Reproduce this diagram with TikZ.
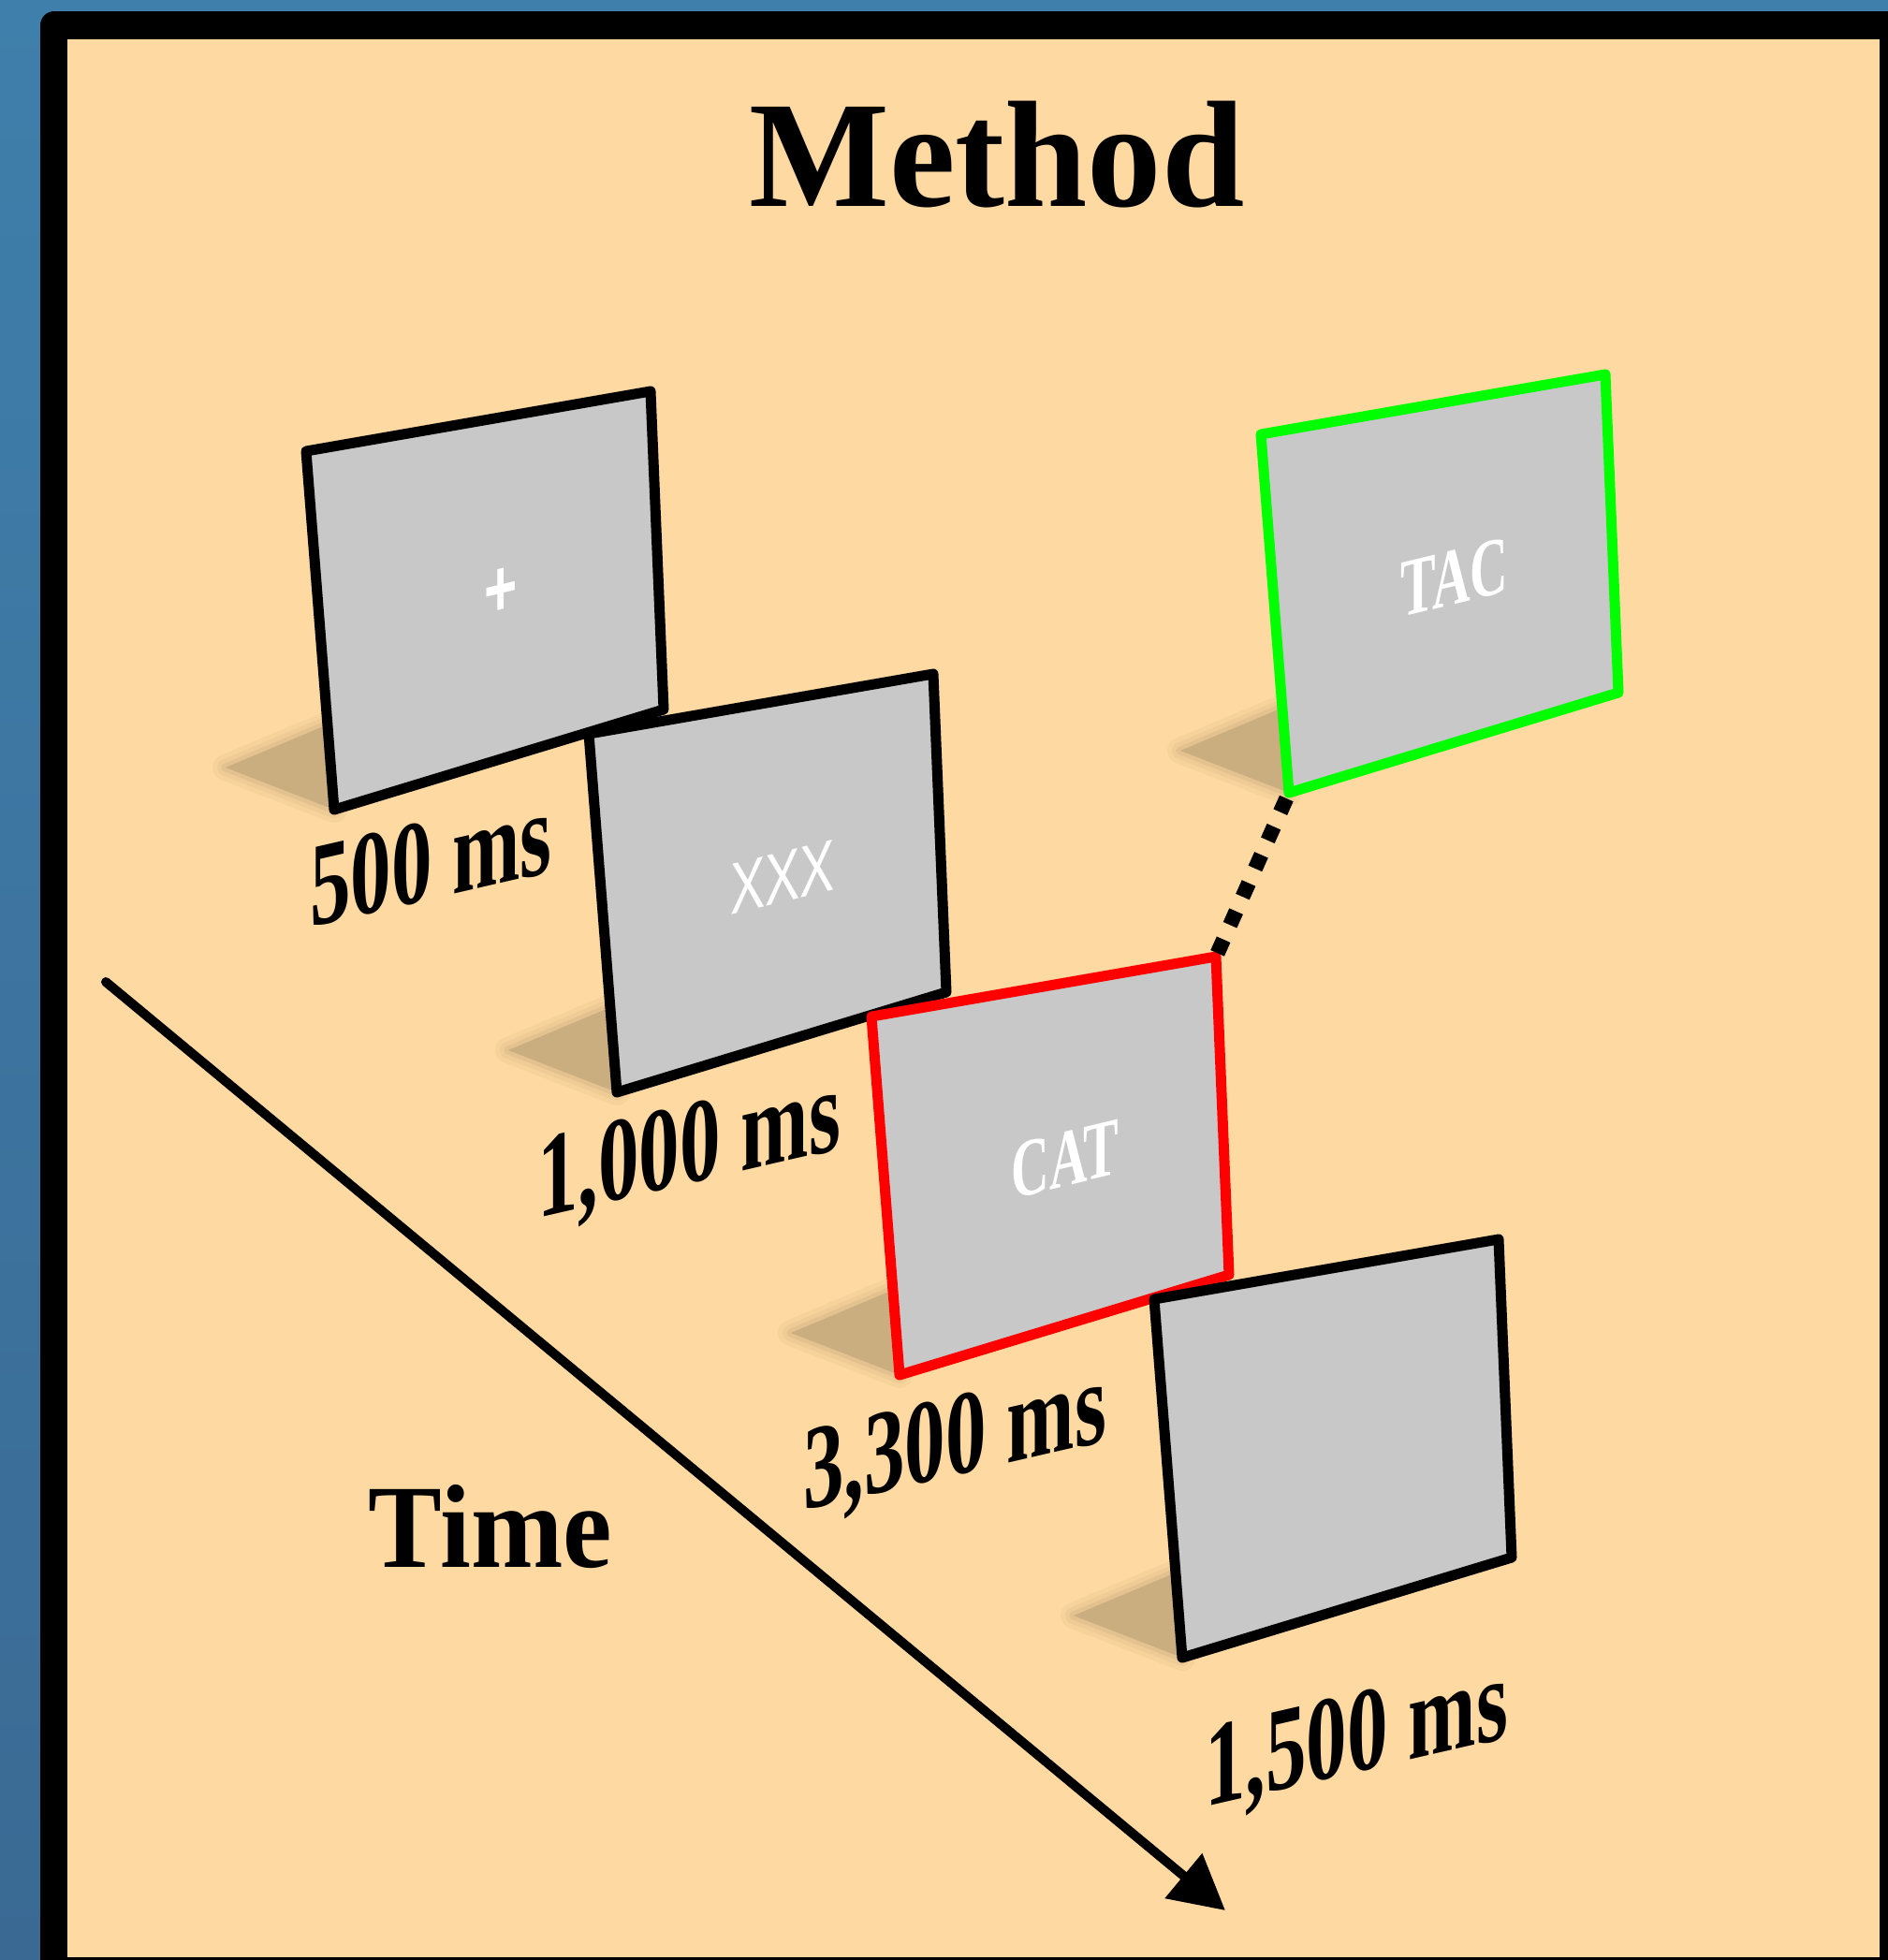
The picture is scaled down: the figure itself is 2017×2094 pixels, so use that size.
\documentclass[tikz,border=0pt]{standalone}
\usepackage{fontspec}
\setmainfont{Liberation Serif}
\newfontfamily\stimsans{Liberation Sans}
\usetikzlibrary{calc,arrows.meta}
\definecolor{cream}{HTML}{FED9A1}
\definecolor{shadowcol}{HTML}{CBAE7F}
\definecolor{panelgray}{HTML}{C8C8C8}
\definecolor{bluetop}{HTML}{3F7FAB}
\definecolor{bluebot}{HTML}{3A6A94}
\definecolor{stimred}{HTML}{FF0000}
\definecolor{stimgreen}{HTML}{00FF00}

\tikzset{
  panelbox/.style={fill=panelgray, line width=11pt, line join=round},
  durlabel/.style={font=\fontsize{128}{132}\selectfont\bfseries, anchor=base west,
    inner sep=0pt, yslant=0.23, xscale=0.68},
  stimword/.style={text=white, inner sep=0pt, anchor=center, yslant=0.24, xscale=0.64,
    font=\fontsize{88}{92}\selectfont\bfseries},
}

\newcommand\stimpanel[4]{%
  \coordinate (#1tl) at (#2,#3);
  \coordinate (#1tr) at ($(#1tl)+(368,-64)$);
  \coordinate (#1br) at ($(#1tl)+(382,276)$);
  \coordinate (#1bl) at ($(#1tl)+(30,383)$);
  \foreach \w/\o in {28/0.12,18/0.18,9/0.3}{%
    \draw[shadowcol, line width=\w pt, opacity=\o, line join=round]
      (#1bl) -- ($(#1bl)+(-116,-45)$) -- ($(#1bl)+(10,-98)$) -- cycle;}
  \fill[shadowcol] (#1bl) -- ($(#1bl)+(-116,-45)$) -- ($(#1bl)+(10,-98)$) -- cycle;
  \draw[panelbox, draw=#4] (#1tl) -- (#1tr) -- (#1br) -- (#1bl) -- cycle;
}

\begin{document}
\begin{tikzpicture}[x=1pt,y=-1pt]
\useasboundingbox (0,0) rectangle (2017,2094);
\clip (0,0) rectangle (2017,2094);
\shade[top color=bluetop, bottom color=bluebot] (0,0) rectangle (2017,2094);
\fill[black, rounded corners=15pt] (43,12) rectangle (2070,2150);
\fill[cream] (72,42) rectangle (2008,2091);

% title
\node[font=\fontsize{162}{170}\selectfont\bfseries, xscale=0.98, anchor=base, inner sep=0pt]
  (title) at (1065,220) {Method};

% panels
\stimpanel{pa}{327}{482}{black}
\stimpanel{pb}{629}{784}{black}
\stimpanel{pc}{931}{1086}{stimred}
\stimpanel{pd}{1233}{1388}{black}
\stimpanel{pe}{1347}{464}{stimgreen}

% stimulus texts
\node[stimword, font=\fontsize{86}{90}\selectfont\stimsans\bfseries, xscale=1.1] (fix) at (535,633) {+};
\node[stimword, font=\fontsize{78}{80}\selectfont\stimsans, xscale=1.12] (xxx) at (836,937) {XXX};
\node[stimword] (cat) at (1138,1239) {CAT};
\node[stimword] (tac) at (1554,617) {TAC};

% dotted connector
\draw[line width=16pt, dash pattern=on 16pt off 17pt, shorten <=4pt] (pctr) -- (pebl);

% duration labels
\node[durlabel] (d1) at (331,991) {500 ms};
\node[durlabel] (d2) at (574,1302) {1,000 ms};
\node[durlabel] (d3) at (858,1614) {3,300 ms};
\node[durlabel] (d4) at (1287,1931) {1,500 ms};

% time axis
\node[font=\fontsize{127}{130}\selectfont\bfseries, xscale=0.93, anchor=base, inner sep=0pt]
  (timelab) at (524,1674) {Time};
\coordinate (tstart) at (113,1049);
\coordinate (tend) at (1309,2041);
\draw[line width=10pt, line cap=round, -{Triangle[length=58pt,width=60pt]}] (tstart) -- (tend);
\end{tikzpicture}
\end{document}
